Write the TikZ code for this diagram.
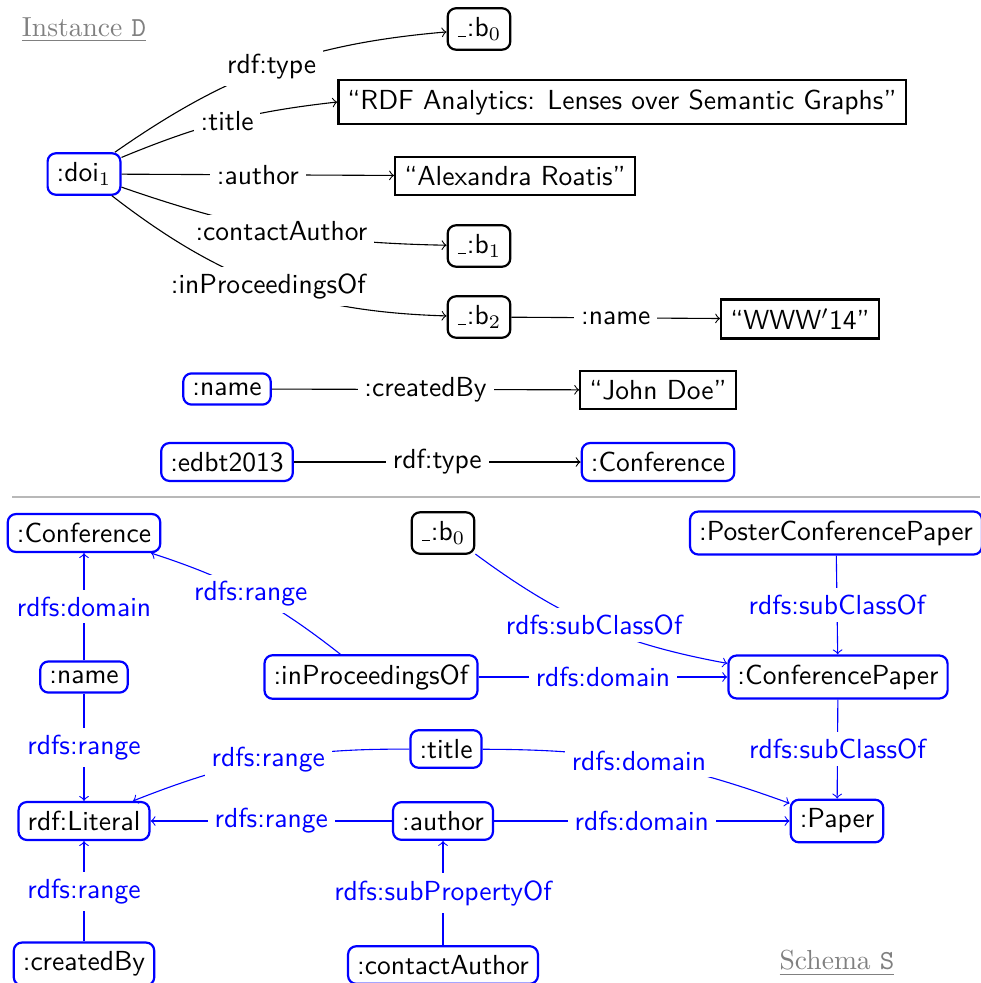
\documentclass[tikz,border=0pt]{standalone}
\usepackage{tikz}
\newcommand{\blnk}{\kern0.4pt\rule[-0.3pt]{2.8pt}{0.45pt}\kern0.5pt}
\begin{document}
\begin{tikzpicture}[x=0.363pt,y=0.363pt, font=\sffamily,
  res/.style={draw=blue, rounded corners=3pt, line width=0.8pt, inner sep=3.3pt},
  bres/.style={draw=black, rounded corners=3pt, line width=0.8pt, inner sep=3.3pt},
  lit/.style={draw=black, line width=0.8pt, inner sep=3.3pt},
  lbl/.style={fill=white, inner sep=2.5pt},
  slbl/.style={fill=white, text=blue, inner sep=2.5pt},
  ed/.style={->, line width=0.4pt},
  sed/.style={->, draw=blue, line width=0.4pt},
  sectitle/.style={text=black!50, font=\rmfamily}]
\useasboundingbox (0,0) rectangle (980,-983);

% ---------- Instance ----------
\node[sectitle] (instT) at (84,-30) {\underline{Instance \texttt{D}}};
\node[bres] (ib0) at (479,-29) {\blnk:b$_0$};
\node[lit] (ttl) at (622,-102) {``RDF Analytics: Lenses over Semantic Graphs''};
\node[res] (doi) at (84,-174) {:doi$_1$};
\node[lit] (alex) at (515,-176) {``Alexandra Roatis''};
\node[bres] (ib1) at (479,-246) {\blnk:b$_1$};
\node[bres] (ib2) at (479,-317) {\blnk:b$_2$};
\node[lit] (www) at (800,-319) {``WWW$'$14''};
\node[res] (iname) at (227,-389) {:name};
\node[lit] (john) at (658,-390) {``John Doe''};
\node[res] (edbt) at (227,-462) {:edbt2013};
\node[res] (iconf) at (658,-462) {:Conference};

\draw[ed] (doi) to[bend left=15] node[lbl]{rdf:type} (ib0);
\draw[ed] (doi) to[bend left=8] node[lbl]{:title} (ttl.west);
\draw[ed] (doi) -- node[lbl]{:author} (alex);
\draw[ed] (doi) to[bend right=9] node[lbl]{:contactAuthor} (ib1);
\draw[ed] (doi) to[bend right=18] node[lbl]{:inProceedingsOf} (ib2);
\draw[ed] (ib2) -- node[lbl]{:name} (www);
\draw[ed] (iname) -- node[lbl]{:createdBy} (john);
\draw[ed] (edbt) -- node[lbl]{rdf:type} (iconf);

% separator
\draw[black!28, line width=0.8pt] (12,-497) -- (980,-497);

% ---------- Schema ----------
\node[res] (conf) at (84,-533) {:Conference};
\node[bres] (sb0) at (443,-533) {\blnk:b$_0$};
\node[res] (poster) at (836,-533) {:PosterConferencePaper};
\node[res] (sname) at (84,-677) {:name};
\node[res] (inproc) at (371,-677) {:inProceedingsOf};
\node[res] (cpaper) at (838,-677) {:ConferencePaper};
\node[res] (stitle) at (446,-749) {:title};
\node[res] (literal) at (84,-821) {rdf:Literal};
\node[res] (author) at (443,-821) {:author};
\node[res] (paper) at (837,-821) {:Paper};
\node[res] (created) at (84,-964) {:createdBy};
\node[res] (contact) at (443,-965) {:contactAuthor};
\node[sectitle] (schT) at (837,-963) {\underline{Schema \texttt{S}}};

\draw[sed] (sname) -- node[slbl]{rdfs:domain} (conf);
\draw[sed] (inproc) to[bend right=10] node[slbl]{rdfs:range} (conf);
\draw[sed] (sb0) to[bend right=13] node[slbl]{rdfs:subClassOf} (cpaper);
\draw[sed] (inproc) -- node[slbl]{rdfs:domain} (cpaper);
\draw[sed] (poster) -- node[slbl]{rdfs:subClassOf} (cpaper);
\draw[sed] (cpaper) -- node[slbl]{rdfs:subClassOf} (paper);
\draw[sed] (sname) -- node[slbl]{rdfs:range} (literal);
\draw[sed] (stitle) to[bend right=11] node[slbl]{rdfs:range} (literal);
\draw[sed] (stitle) to[bend left=10] node[slbl]{rdfs:domain} (paper);
\draw[sed] (author) -- node[slbl]{rdfs:range} (literal);
\draw[sed] (author) -- node[slbl]{rdfs:domain} (paper);
\draw[sed] (created) -- node[slbl]{rdfs:range} (literal);
\draw[sed] (contact) -- node[slbl]{rdfs:subPropertyOf} (author);
\end{tikzpicture}
\end{document}
